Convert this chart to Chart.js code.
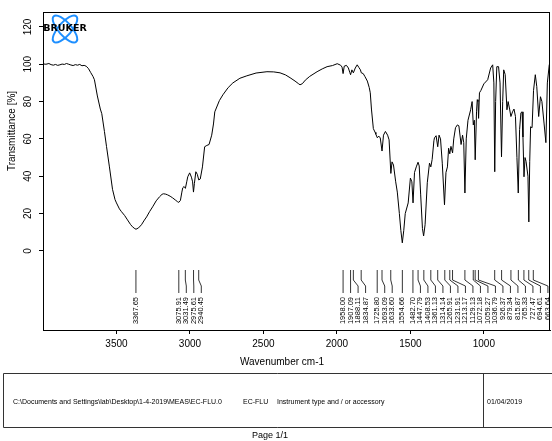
<!DOCTYPE html>
<html>
<head>
<meta charset="utf-8">
<script src="https://cdn.jsdelivr.net/npm/chart.js@4"></script>
<style>
  body { margin: 0; background: #fff; }
  #wrap { width: 552px; height: 441px; }
</style>
</head>
<body>
<div id="wrap"><canvas id="ir"></canvas></div>
<script>
// spectrum (wavenumber cm-1 / transmittance %)
const waves = [4000,3980,3960,3945,3930,3915,3900,3885,3870,3855,3840,3825,3810,3795,3780,3765,3750,3735,3720,3705,
  3690,3675,3660,3650,3630,3610,3600,3582,3568,3548,3527,3510,3500,3480,3466,3445,3425,3405,3391,3375,
  3367,3350,3330,3310,3295,3275,3254,3230,3207,3190,3180,3165,3152,3135,3118,3100,3084,3076,3065,3055,
  3049,3040,3031,3022,3015,3002,2990,2982,2976,2970,2960,2950,2940,2930,2915,2900,2885,2870,2852,2840,
  2831,2800,2776,2740,2708,2660,2613,2550,2476,2430,2387,2350,2319,2285,2260,2251,2235,2215,2185,2135,
  2100,2067,2030,1998,1975,1965,1958,1950,1935,1922,1912,1907,1898,1888,1875,1862,1850,1840,1834,1821,
  1810,1793,1780,1773,1765,1752,1740,1735,1725,1715,1705,1693,1683,1670,1655,1645,1633,1625,1615,1600,
  1589,1575,1565,1555,1545,1535,1515,1500,1490,1482,1472,1460,1448,1440,1430,1418,1410,1400,1385,1370,
  1361,1352,1340,1336,1325,1314,1305,1295,1283,1268,1258,1248,1240,1232,1224,1213,1205,1193,1180,1170,
  1155,1145,1137,1129,1120,1108,1090,1080,1072,1065,1059,1050,1045,1040,1036,1030,1020,1000,974,954,
  940,932,926,920,912,900,890,880,872,865,855,843,835,825,816,805,795,785,775,766,
  757,748,740,734,727,720,713,700,694,688,682,672,662,650,640,627,615,605,590,578,
  568,555,550];
const trans = [100.2,100.0,100.4,99.8,99.5,99.9,99.4,99.7,100.1,99.9,100.4,100.0,99.6,99.3,99.8,99.5,99.9,99.2,99.4,98.9,
  97.6,95.5,93.5,91.7,83.0,76.0,73.5,64.0,56.0,45.0,33.0,27.5,25.7,22.5,21.0,19.0,16.6,14.2,12.9,11.9,
  11.6,12.3,14.0,16.5,18.2,21.0,23.6,26.8,29.0,30.3,30.6,30.4,30.0,29.3,28.4,27.3,26.3,26.0,27.0,31.5,
  33.8,34.5,33.5,37.0,39.7,41.8,39.5,37.0,31.5,36.0,42.4,41.0,38.0,38.5,45.0,55.8,56.5,57.0,62.0,68.0,
  74.5,80.5,83.6,87.5,90.0,92.5,93.8,95.3,96.0,95.9,95.4,94.3,92.8,91.0,89.5,89.0,89.6,91.5,93.5,96.0,
  97.5,98.7,99.3,100.3,99.5,98.5,95.0,99.0,99.4,98.0,95.5,94.4,97.0,95.4,98.0,99.7,98.2,97.0,95.4,95.0,
  93.5,91.0,87.5,84.7,76.0,65.5,63.5,62.5,60.6,61.5,60.5,53.5,62.0,64.0,62.0,59.5,41.5,47.7,46.0,37.0,
  31.5,20.0,11.0,4.3,11.0,20.0,25.7,39.0,37.0,25.7,42.0,45.0,47.5,45.5,30.0,12.0,8.0,14.0,36.5,47.0,
  45.0,49.0,59.0,60.6,61.7,55.8,62.0,60.0,47.0,24.7,42.0,45.0,55.0,52.0,56.0,52.5,60.0,66.0,67.5,67.0,
  57.0,62.0,58.0,31.0,60.0,70.0,75.6,80.0,67.5,70.0,48.8,74.5,81.0,80.0,71.0,84.7,86.0,89.5,91.7,98.0,
  99.7,90.0,42.4,80.0,98.7,98.7,90.0,50.4,80.0,97.0,94.5,75.6,80.0,76.0,72.0,74.5,76.0,72.0,50.0,31.0,
  65.0,74.0,74.5,61.0,39.7,50.0,48.0,40.0,15.5,48.0,66.5,66.0,86.0,94.4,88.0,72.0,82.6,80.0,68.0,58.0,
  90.0,99.7,100.5];

// picked peaks
const peaks = [3367.65,3075.91,3031.49,2975.61,2940.45,1958.00,1907.09,1888.11,1834.87,1725.80,1693.09,1633.60,
  1554.66,1482.70,1447.79,1408.53,1361.13,1314.14,1265.91,1231.91,1213.17,1129.13,1072.18,1059.27,1036.79,
  926.37,879.34,815.87,765.33,727.47,694.61,663.64];

const xTicks = [3500,3000,2500,2000,1500,1000];
const yTicks = [0,20,40,60,80,100,120];

const footer = {
  path: 'C:\\Documents and Settings\\lab\\Desktop\\1-4-2019\\MEAS\\EC-FLU.0',
  sample: 'EC-FLU',
  instr: 'Instrument type and / or accessory',
  date: '01/04/2019',
  page: 'Page 1/1'
};

const FONT = '"Liberation Sans", Arial, sans-serif';

// everything the library does not draw itself: frame, y labels, peak picks, footer, logo
const decor = {
  id: 'decor',
  afterDraw(chart) {
    const ctx = chart.ctx, xs = chart.scales.x, ys = chart.scales.y, a = chart.chartArea;
    ctx.save();
    ctx.strokeStyle = '#000';
    ctx.lineWidth = 1;
    ctx.strokeRect(a.left + 0.5, a.top + 0.5, a.right - a.left - 1, a.bottom - a.top);

    // y tick labels, rotated like the original
    ctx.fillStyle = '#000';
    ctx.font = '10px ' + FONT;
    ctx.textAlign = 'center';
    ctx.textBaseline = 'middle';
    yTicks.forEach(v => {
      ctx.save();
      ctx.translate(28, ys.getPixelForValue(v));
      ctx.rotate(-Math.PI / 2);
      ctx.fillText(String(v), 0, 0);
      ctx.restore();
    });
    ctx.save();
    ctx.font = '10px ' + FONT;
    ctx.translate(12, 131);
    ctx.rotate(-Math.PI / 2);
    ctx.fillText('Transmittance [%]', 0, 0);
    ctx.restore();

    ctx.font = '10px ' + FONT;
    ctx.fillText('Wavenumber cm-1', 282, 362);

    // peak picks
    ctx.font = '7.5px ' + FONT;
    ctx.lineWidth = 0.8;
    let prev = -Infinity;
    peaks.slice().sort((p, q) => q - p).forEach(p => {
      const px = xs.getPixelForValue(p);
      const lx = Math.max(px, prev + 7.5);
      prev = lx;
      ctx.beginPath();
      ctx.moveTo(px, 270);
      ctx.lineTo(px, 280);
      ctx.lineTo(lx, 286);
      ctx.lineTo(lx, 293);
      ctx.stroke();
      ctx.save();
      ctx.translate(lx, 297);
      ctx.rotate(-Math.PI / 2);
      ctx.textAlign = 'right';
      ctx.fillText(p.toFixed(2), 0, 0);
      ctx.restore();
    });

    // logo
    ctx.strokeStyle = '#1e8fff';
    ctx.lineWidth = 2;
    [-0.85, 0.85].forEach(r => {
      ctx.beginPath();
      ctx.ellipse(65, 29, 17, 6.5, r, 0, Math.PI * 2);
      ctx.stroke();
    });
    ctx.fillStyle = '#000';
    ctx.font = 'bold 9.5px "DejaVu Sans", sans-serif';
    ctx.textAlign = 'center';
    ctx.fillText('BRUKER', 65, 29);

    // footer box
    ctx.strokeStyle = '#333';
    ctx.lineWidth = 1;
    ctx.beginPath();
    ctx.moveTo(552, 373.5); ctx.lineTo(3.5, 373.5); ctx.lineTo(3.5, 427.5); ctx.lineTo(552, 427.5);
    ctx.moveTo(483.5, 373.5); ctx.lineTo(483.5, 427.5);
    ctx.stroke();
    ctx.font = '7px ' + FONT;
    ctx.textAlign = 'left';
    ctx.fillText(footer.path, 13, 402);
    ctx.fillText(footer.sample, 243, 402);
    ctx.fillText(footer.instr, 277, 402);
    ctx.fillText(footer.date, 487, 402);
    ctx.font = '9px ' + FONT;
    ctx.textAlign = 'center';
    ctx.fillText(footer.page, 270, 436);
    ctx.restore();
  }
};

const ir = document.getElementById('ir').getContext('2d');
const spec = new Chart(ir, {
  type: 'line',
  data: {
    datasets: [{
      data: waves.map((w, i) => ({ x: w, y: trans[i] })),
      borderColor: '#000',
      borderWidth: 1,
      pointRadius: 0,
      tension: 0,
      fill: false
    }]
  },
  options: {
    responsive: true,
    maintainAspectRatio: false,
    animation: false,
    events: [],
    layout: { padding: { top: 12, right: 2, left: 0, bottom: 0 } },
    plugins: { legend: { display: false }, tooltip: { enabled: false } },
    scales: {
      x: {
        type: 'linear',
        reverse: true,
        min: 550,
        max: 4000,
        afterFit: s => { s.height = 111; },
        afterBuildTicks: s => { s.ticks = xTicks.map(v => ({ value: v })); },
        grid: { drawOnChartArea: false, drawTicks: true, tickLength: 4, color: '#000' },
        border: { display: true, color: '#000' },
        ticks: {
          color: '#000',
          font: { family: FONT, size: 10 },
          padding: 4,
          maxRotation: 0,
          callback: v => String(v)
        }
      },
      y: {
        min: -42.4,
        max: 128,
        afterFit: s => { s.width = 43; },
        afterBuildTicks: s => { s.ticks = yTicks.map(v => ({ value: v })); },
        grid: { drawOnChartArea: false, drawTicks: true, tickLength: 4, color: '#000' },
        border: { display: true, color: '#000' },
        ticks: { display: false }
      }
    }
  },
  plugins: [decor]
});
</script>
</body>
</html>
